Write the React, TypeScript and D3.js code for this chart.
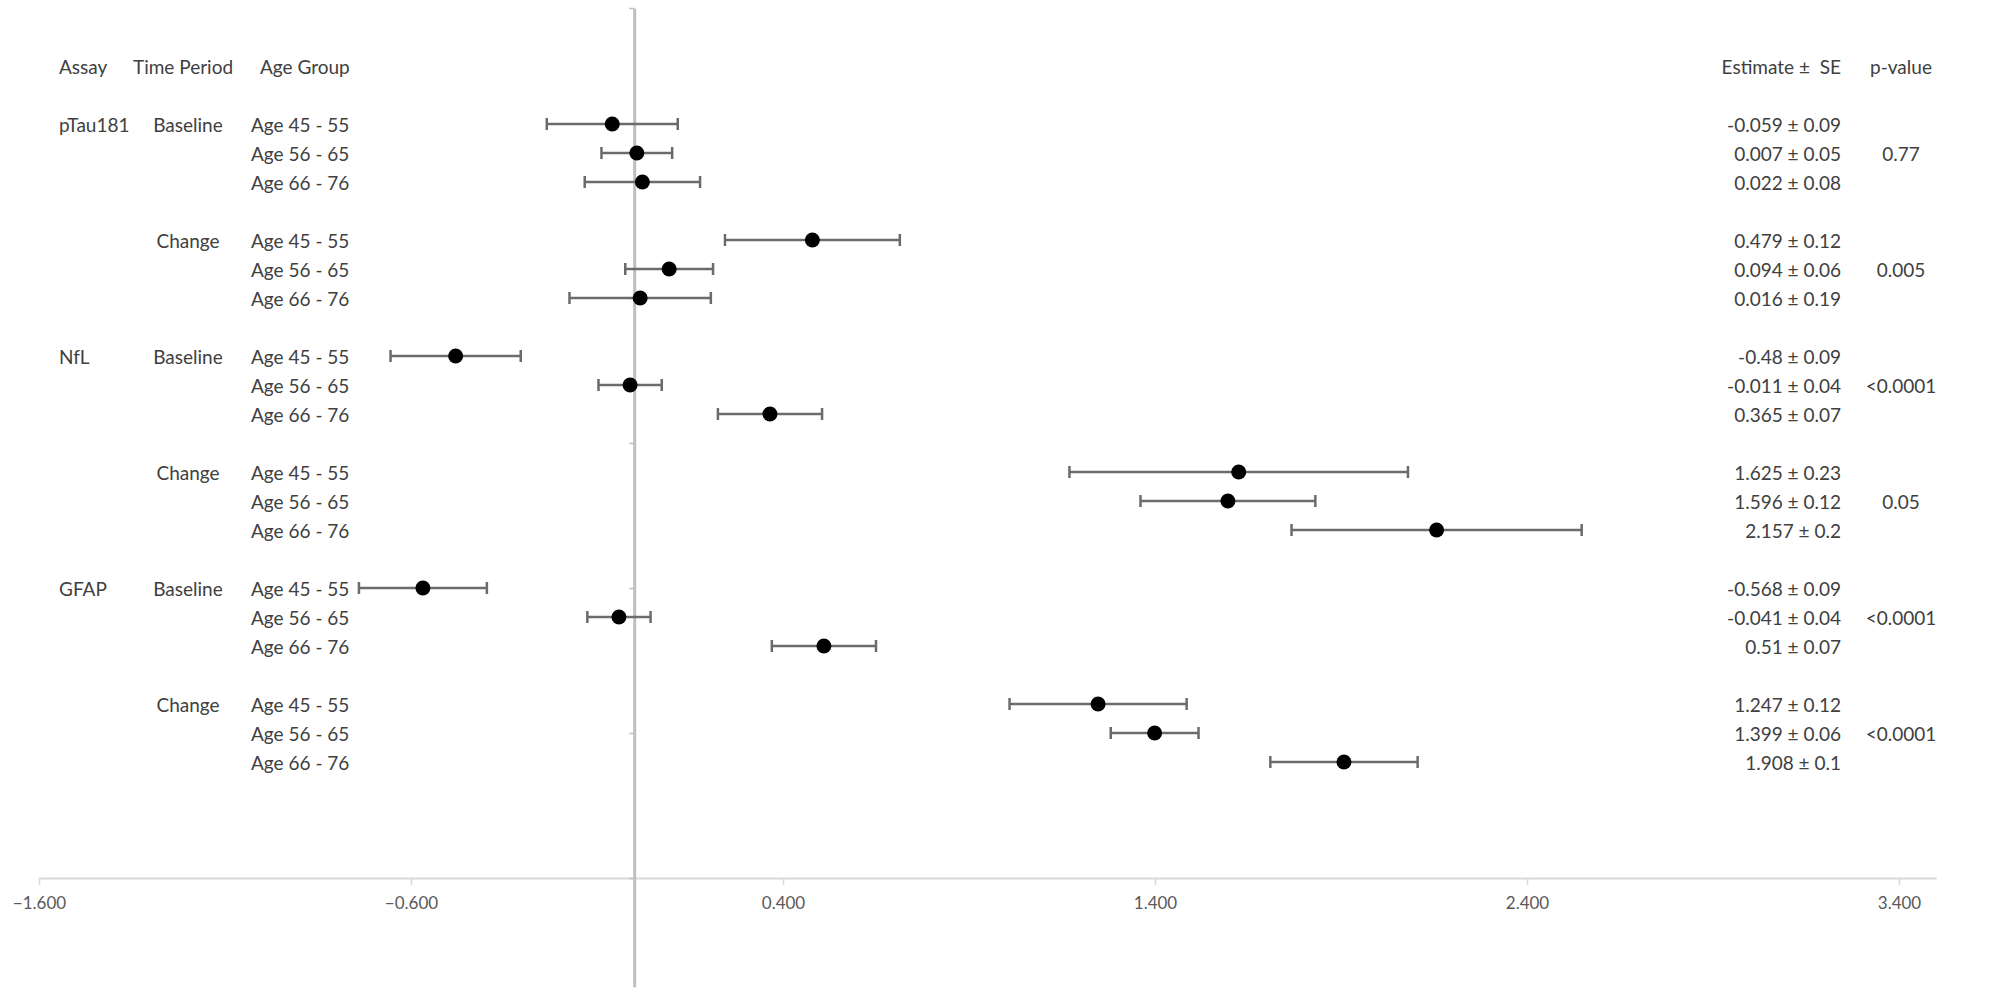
import React, { useRef, useEffect } from 'react';
import * as d3 from 'd3';

// rows read top to bottom
const assays = ['pTau181', 'NfL', 'GFAP'];
const periods = ['Baseline', 'Change'];
const ageGroups = ['Age 45 - 55', 'Age 56 - 65', 'Age 66 - 76'];

const estimates = [
  -0.059, 0.007, 0.022, 0.479, 0.094, 0.016,
  -0.48, -0.011, 0.365, 1.625, 1.596, 2.157,
  -0.568, -0.041, 0.51, 1.247, 1.399, 1.908,
];
const seValues = [
  0.09, 0.05, 0.08, 0.12, 0.06, 0.19,
  0.09, 0.04, 0.07, 0.23, 0.12, 0.2,
  0.09, 0.04, 0.07, 0.12, 0.06, 0.1,
];
// half-width of each drawn error bar
const barHalfWidths = [
  0.176, 0.095, 0.155, 0.235, 0.118, 0.19,
  0.175, 0.085, 0.14, 0.455, 0.235, 0.39,
  0.172, 0.085, 0.14, 0.238, 0.118, 0.198,
];
// one p-value per assay/period block
const pValues = ['0.77', '0.005', '<0.0001', '0.05', '<0.0001', '<0.0001'];

const xTickValues = [-1.6, -0.6, 0.4, 1.4, 2.4, 3.4];
const yTickValues = [0, 5, 10, 15, 20, 25, 30];

const App: React.FC = () => {
  const svgRef = useRef<SVGSVGElement>(null);
  const width = 2000;
  const height = 1006;

  useEffect(() => {
    if (!svgRef.current) return;
    const svg = d3.select(svgRef.current);
    svg.selectAll('*').remove();

    const x = d3.scaleLinear().domain([-1.6, 3.5]).range([39, 39 + 5.1 * 372]);
    const y = d3.scaleLinear().domain([-3.75, 30]).range([986.75, 8]);

    const textColor = '#404040';
    const font = 'Lato, "Open Sans", sans-serif';

    // build rows: each block of 3 rows followed by an empty slot
    const rows = estimates.map((est, i) => {
      const block = Math.floor(i / 3);
      const slot = block * 4 + (i % 3);
      return {
        est,
        se: seValues[i],
        half: barHalfWidths[i],
        age: ageGroups[i % 3],
        block,
        pos: 26 - slot,
        first: i % 3 === 0,
      };
    });

    // horizontal axis
    const xAxis = d3.axisBottom(x)
      .tickValues(xTickValues)
      .tickFormat(d3.format('.3f'))
      .tickSize(7)
      .tickSizeOuter(0)
      .tickPadding(12);
    const gx = svg.append('g')
      .attr('transform', `translate(0,${y(0)})`)
      .call(xAxis);
    gx.select('.domain').attr('stroke', '#d9d9d9').attr('stroke-width', 2);
    gx.selectAll('.tick line').attr('stroke', '#d9d9d9').attr('stroke-width', 1.5);
    gx.selectAll('.tick text')
      .attr('fill', '#595959')
      .style('font-family', font)
      .style('font-size', '17px');

    // vertical reference axis at zero
    const yAxis = d3.axisLeft(y)
      .tickValues(yTickValues)
      .tickFormat(() => '')
      .tickSize(5)
      .tickSizeOuter(0);
    const gy = svg.append('g')
      .attr('transform', `translate(${x(0)},0)`)
      .call(yAxis);
    gy.select('.domain').attr('stroke', '#bfbfbf').attr('stroke-width', 3);
    gy.selectAll('.tick line').attr('stroke', '#bfbfbf').attr('stroke-width', 1.5);

    // error bars
    const bars = svg.append('g').attr('stroke', '#6b6b6b').attr('stroke-width', 2.5);
    rows.forEach(r => {
      const yy = y(r.pos);
      bars.append('line')
        .attr('x1', x(r.est - r.half)).attr('x2', x(r.est + r.half))
        .attr('y1', yy).attr('y2', yy);
      [r.est - r.half, r.est + r.half].forEach(v => {
        bars.append('line')
          .attr('x1', x(v)).attr('x2', x(v))
          .attr('y1', yy - 6).attr('y2', yy + 6);
      });
    });

    // points
    svg.append('g')
      .selectAll('circle')
      .data(rows)
      .enter()
      .append('circle')
      .attr('cx', d => x(d.est))
      .attr('cy', d => y(d.pos))
      .attr('r', 7.5)
      .attr('fill', '#000');

    // text table
    const txt = svg.append('g')
      .attr('fill', textColor)
      .style('font-family', font)
      .style('font-size', '19px')
      .attr('dominant-baseline', 'central');

    const headY = y(28);
    txt.append('text').attr('x', 59).attr('y', headY).text('Assay');
    txt.append('text').attr('x', 133).attr('y', headY).text('Time Period');
    txt.append('text').attr('x', 260).attr('y', headY).text('Age Group');
    txt.append('text').attr('x', 1841).attr('y', headY)
      .attr('text-anchor', 'end').style('white-space', 'pre')
      .text('Estimate \u00b1  SE');
    txt.append('text').attr('x', 1901).attr('y', headY)
      .attr('text-anchor', 'middle').text('p-value');

    rows.forEach((r, i) => {
      const yy = y(r.pos);
      if (i % 6 === 0) {
        txt.append('text').attr('x', 59).attr('y', yy).text(assays[i / 6]);
      }
      if (r.first) {
        txt.append('text').attr('x', 188).attr('y', yy)
          .attr('text-anchor', 'middle').text(periods[r.block % 2]);
      }
      txt.append('text').attr('x', 251).attr('y', yy).text(r.age);
      txt.append('text').attr('x', 1841).attr('y', yy)
        .attr('text-anchor', 'end')
        .text(`${r.est} \u00b1 ${r.se}`);
      if (i % 3 === 1) {
        txt.append('text').attr('x', 1901).attr('y', yy)
          .attr('text-anchor', 'middle').text(pValues[r.block]);
      }
    });
  }, []);

  return (
    <svg
      ref={svgRef}
      width={width}
      height={height}
      style={{ position: 'absolute', left: 0, top: 0, background: '#fff' }}
    />
  );
};

export default App;
